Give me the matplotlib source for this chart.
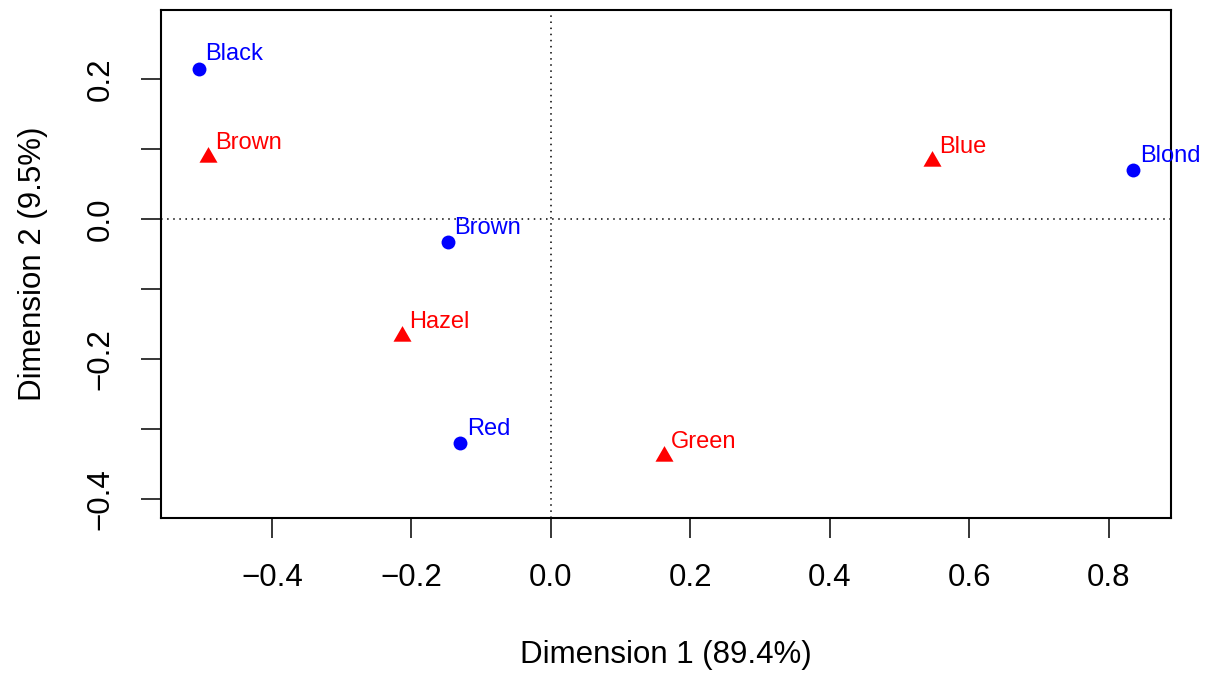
import matplotlib
matplotlib.use('Agg')
import matplotlib.pyplot as plt
import numpy as np

plt.rcParams['font.family'] = ['Liberation Sans', 'DejaVu Sans']

# row points (hair colour) and column points (eye colour)
hair_labels = ['Black', 'Brown', 'Red', 'Blond']
hair_x = [-0.505, -0.148, -0.130, 0.835]
hair_y = [0.215, -0.033, -0.320, 0.070]

eye_labels = ['Brown', 'Blue', 'Hazel', 'Green']
eye_x = [-0.492, 0.547, -0.213, 0.162]
eye_y = [0.088, 0.083, -0.167, -0.339]

x_ticks = [-0.4, -0.2, 0.0, 0.2, 0.4, 0.6, 0.8]
x_tick_labels = ['\u22120.4', '\u22120.2', '0.0', '0.2', '0.4', '0.6', '0.8']
y_ticks = [-0.4, -0.3, -0.2, -0.1, 0.0, 0.1, 0.2]
y_tick_labels = ['\u22120.4', '', '\u22120.2', '', '0.0', '', '0.2']

x_label = 'Dimension 1 (89.4%)'
y_label = 'Dimension 2 (9.5%)'

# equilateral triangle like R's pch 17
tri = [(-1, -0.577), (1, -0.577), (0, 1.155), (-1, -0.577)]

fig = plt.figure(figsize=(12.09, 6.74), dpi=100)
ax = fig.add_axes([161 / 1209, 156 / 674, 1010 / 1209, 508 / 674])

ax.axhline(0, color='black', lw=1.1, ls=(0, (1, 3)), zorder=1)
ax.axvline(0, color='black', lw=1.1, ls=(0, (1, 3)), zorder=1)

ax.scatter(hair_x, hair_y, s=100, c='#0000FF', marker='o', linewidths=0, zorder=3)
ax.scatter(eye_x, eye_y, s=15 ** 2, c='#FF0000', marker=tri, linewidths=0, zorder=3)

for lab, x, y in zip(hair_labels, hair_x, hair_y):
    ax.annotate(lab, (x, y), xytext=(5, 5.8), textcoords='offset points',
                ha='left', va='baseline', color='#0000FF', fontsize=17)
for lab, x, y in zip(eye_labels, eye_x, eye_y):
    ax.annotate(lab, (x, y), xytext=(5, 5.8), textcoords='offset points',
                ha='left', va='baseline', color='#FF0000', fontsize=17)

ax.set_xlim(-0.559, 0.889)
ax.set_ylim(-0.427, 0.2986)

ax.set_xticks(x_ticks)
ax.set_xticklabels(x_tick_labels)
ax.set_yticks(y_ticks)
ax.set_yticklabels(y_tick_labels)
for t in ax.get_yticklabels():
    t.set_rotation(90)
    t.set_va('center')

ax.tick_params(direction='out', length=14.5, width=1.1, labelsize=22.5, pad=18)
for sp in ax.spines.values():
    sp.set_linewidth(1.5)

ax.set_xlabel(x_label, fontsize=22.5, labelpad=34)
ax.set_ylabel(y_label, fontsize=22.5, labelpad=27)

fig.savefig('out.png', dpi=100)
